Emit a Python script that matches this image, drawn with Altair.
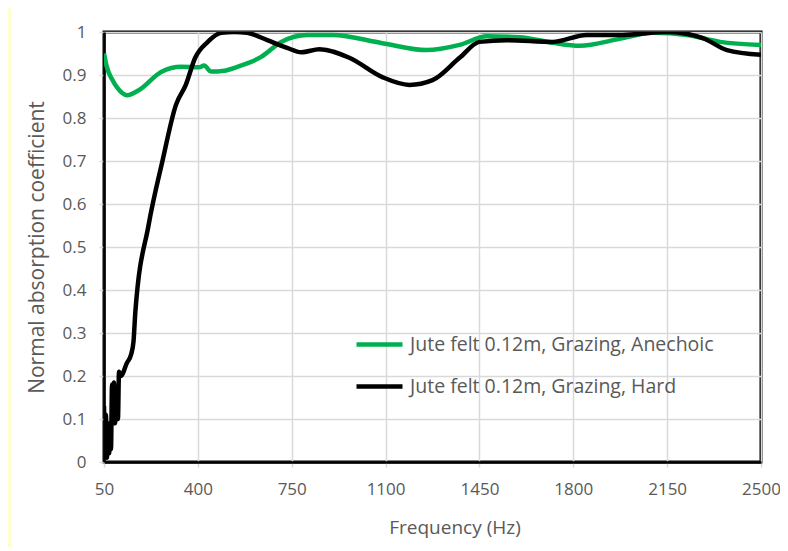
import altair as alt
import pandas as pd

# ---- data ----
series_names = ["Jute felt 0.12m, Grazing, Anechoic", "Jute felt 0.12m, Grazing, Hard"]
series_colors = ["#00B050", "#000000"]

green_freq = [50, 60, 80, 100, 136, 181, 263, 338, 405, 423, 450, 498, 547, 636, 711, 808,
              902, 1088, 1253, 1376, 1477, 1600, 1723, 1824, 1973, 2097, 2224, 2347, 2500]
green_val = [0.950, 0.920, 0.890, 0.870, 0.853, 0.865, 0.907, 0.919, 0.918, 0.922, 0.908,
             0.910, 0.919, 0.942, 0.977, 0.993, 0.993, 0.974, 0.958, 0.970, 0.990, 0.988,
             0.975, 0.968, 0.984, 0.998, 0.993, 0.977, 0.970]

black_freq = [50, 54, 57, 61, 65, 69, 72, 76, 80, 84, 87, 91, 95, 102, 106, 113, 135, 151,
              160, 167, 216, 268, 318, 355, 390, 437, 487, 536, 584, 659, 733, 786, 853,
              965, 1088, 1189, 1275, 1376, 1450, 1551, 1723, 1850, 1973, 2149, 2283, 2373, 2500]
black_val = [0.13, 0.03, 0.11, 0.01, 0.09, 0.02, 0.07, 0.03, 0.18, 0.10, 0.185, 0.09, 0.12,
             0.10, 0.21, 0.20, 0.23, 0.25, 0.28, 0.35, 0.55, 0.70, 0.83, 0.877, 0.94, 0.977,
             0.998, 1.0, 0.998, 0.981, 0.963, 0.953, 0.960, 0.94, 0.895, 0.877, 0.888, 0.94,
             0.977, 0.981, 0.977, 0.993, 0.993, 1.0, 0.986, 0.958, 0.947]

x_ticks = [50, 400, 750, 1100, 1450, 1800, 2150, 2500]
y_ticks = [0, 0.1, 0.2, 0.3, 0.4, 0.5, 0.6, 0.7, 0.8, 0.9, 1.0]

df = pd.concat([
    pd.DataFrame({"f": green_freq, "v": green_val, "s": series_names[0], "o": 0}),
    pd.DataFrame({"f": black_freq, "v": black_val, "s": series_names[1], "o": 1}),
], ignore_index=True)

W, H = 657, 430
FONT = "Open Sans"
GREY = "#595959"

lines = alt.Chart(df).mark_line(strokeWidth=4.5, interpolate="monotone", clip=True).encode(
    x=alt.X("f:Q", scale=alt.Scale(domain=[50, 2500], nice=False, zero=False),
            axis=alt.Axis(values=x_ticks, format="d", title="Frequency (Hz)", grid=True,
                          labelFlush=False,
                          titleX=W / 2 + 22, titleY=65, titleBaseline="middle",
                          titleFontSize=19, labelPadding=14)),
    y=alt.Y("v:Q", scale=alt.Scale(domain=[0, 1], nice=False),
            axis=alt.Axis(values=y_ticks, format=".1~f", title="Normal absorption coefficient",
                          grid=True, titleX=-67, titleY=H / 2, titleBaseline="middle",
                          titleFontSize=21, labelPadding=13)),
    color=alt.Color("s:N", scale=alt.Scale(domain=series_names, range=series_colors),
                    legend=alt.Legend(title=None, orient="none", legendX=263, legendY=300,
                                      symbolType="M-2.3,0H2.3", symbolSize=400,
                                      symbolStrokeWidth=4.5, labelOffset=18, rowPadding=20,
                                      padding=0)),
    order=alt.Order("o:Q"),
    detail="s:N",
)

strip = alt.Chart(pd.DataFrame({"a": [0]})).mark_rect(color="#FFFFCC").encode(
    x=alt.value(-96), x2=alt.value(-93), y=alt.value(-24), y2=alt.value(H + 85))

chart = alt.layer(strip, lines).properties(
    width=W, height=H,
    padding={"left": 96, "top": 24, "right": 19, "bottom": 85},
    autosize=alt.AutoSizeParams(type="none"),
    background="white",
).configure_view(
    stroke="black", strokeWidth=3
).configure_axis(
    labelFont=FONT, titleFont=FONT, labelFontSize=17, titleFontSize=18,
    labelColor=GREY, titleColor=GREY, titleFontWeight="normal",
    gridColor="#D9D9D9", gridWidth=1.5, tickColor="#D9D9D9", tickSize=5, tickWidth=1.5,
    domainColor="black", domainWidth=2.5,
).configure_legend(
    labelFont=FONT, labelFontSize=19.5, labelColor=GREY, labelLimit=500,
)

chart.save("out.html", embed_options={"renderer": "svg", "actions": False})
